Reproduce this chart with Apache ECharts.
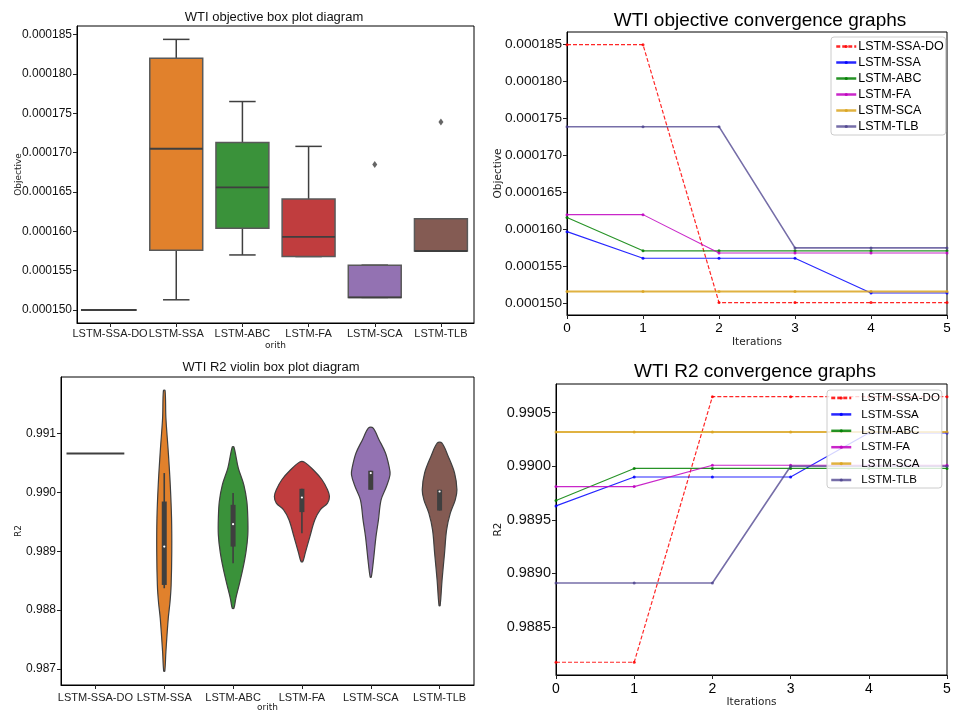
<!DOCTYPE html>
<html><head><meta charset="utf-8">
<script src="https://cdn.jsdelivr.net/npm/echarts@6/dist/echarts.min.js"></script>
<style>html,body{margin:0;padding:0;background:#fff}#c{width:954px;height:712px}</style>
</head><body><div id="c"></div>
<script>
// ---------- data ----------
const algorithms = ['LSTM-SSA-DO', 'LSTM-SSA', 'LSTM-ABC', 'LSTM-FA', 'LSTM-SCA', 'LSTM-TLB'];
const iterations = [0, 1, 2, 3, 4, 5];

// objective box stats: [lower whisker, Q1, median, Q3, upper whisker]
const objBoxSsaDo = [0.0001500, 0.0001500, 0.0001500, 0.0001500, 0.0001500];
const objBoxSsa   = [0.0001513, 0.0001576, 0.0001705, 0.0001820, 0.0001844];
const objBoxAbc   = [0.0001570, 0.0001604, 0.0001656, 0.0001713, 0.0001765];
const objBoxFa    = [0.0001568, 0.0001568, 0.0001593, 0.0001641, 0.0001708];
const objBoxSca   = [0.0001516, 0.0001516, 0.0001516, 0.0001557, 0.0001557];
const objBoxTlb   = [0.0001575, 0.0001575, 0.0001575, 0.0001616, 0.0001616];
const objOutliers = [['LSTM-SCA', 0.0001685], ['LSTM-TLB', 0.0001739]];
const objTicks = [0.000150, 0.000155, 0.000160, 0.000165, 0.000170, 0.000175, 0.000180, 0.000185];

// objective convergence per iteration
const objSsaDo = [0.0001850, 0.0001850, 0.0001501, 0.0001501, 0.0001501, 0.0001501];
const objSsa   = [0.0001597, 0.0001561, 0.0001561, 0.0001561, 0.0001514, 0.0001514];
const objAbc   = [0.0001616, 0.0001571, 0.0001571, 0.0001571, 0.0001571, 0.0001571];
const objFa    = [0.0001620, 0.0001620, 0.0001568, 0.0001568, 0.0001568, 0.0001568];
const objSca   = [0.0001516, 0.0001516, 0.0001516, 0.0001516, 0.0001516, 0.0001516];
const objTlb   = [0.0001739, 0.0001739, 0.0001739, 0.0001575, 0.0001575, 0.0001575];

// R2 violin: density profiles [R2, relative density] and inner box stats
const r2SsaDoValue = 0.99066;
const r2DensSsa = [[0.991726,0.03],[0.991262,0.06],[0.990694,0.145],[0.990128,0.218],[0.989562,0.265],[0.988994,0.273],[0.988428,0.25],[0.988144,0.21],[0.98786,0.145],[0.987294,0.06],[0.986966,0.02]];
const r2DensAbc = [[0.990769,0.03],[0.990412,0.19],[0.990128,0.39],[0.989844,0.50],[0.989562,0.535],[0.989278,0.535],[0.988994,0.47],[0.988712,0.36],[0.988428,0.22],[0.988202,0.10],[0.988032,0.03]];
const r2DensFa  = [[0.990514,0.08],[0.990383,0.41],[0.990213,0.73],[0.990043,0.93],[0.989929,1.0],[0.989817,0.93],[0.989703,0.665],[0.989533,0.47],[0.989249,0.29],[0.988967,0.12],[0.988824,0.03]];
const r2DensSca = [[0.991092,0.08],[0.990893,0.30],[0.990667,0.535],[0.990439,0.665],[0.990298,0.70],[0.990099,0.57],[0.989873,0.375],[0.989533,0.28],[0.989249,0.19],[0.988853,0.10],[0.988559,0.02]];
const r2DensTlb = [[0.990837,0.08],[0.990609,0.315],[0.990327,0.545],[0.990043,0.63],[0.989873,0.57],[0.989647,0.39],[0.989363,0.255],[0.988967,0.18],[0.988513,0.09],[0.988076,0.02]];
const r2BoxSsa = [0.988372, 0.988428, 0.989079, 0.989844, 0.990327];
const r2BoxAbc = [0.988797, 0.989079, 0.989460, 0.989788, 0.989987];
const r2BoxFa  = [0.989307, 0.989664, 0.989912, 0.990060, 0.990060];
const r2BoxSca = [0.990043, 0.990043, 0.990327, 0.990366, 0.990366];
const r2BoxTlb = [0.989691, 0.989691, 0.990014, 0.990043, 0.990043];
const r2ViolinTicks = [0.987, 0.988, 0.989, 0.990, 0.991];

// R2 convergence per iteration
const r2SsaDo = [0.98817, 0.98817, 0.99065, 0.99065, 0.99065, 0.99065];
const r2Ssa   = [0.98963, 0.98990, 0.98990, 0.98990, 0.99031, 0.99031];
const r2Abc   = [0.98968, 0.98998, 0.98998, 0.98998, 0.98998, 0.98998];
const r2Fa    = [0.98981, 0.98981, 0.99001, 0.99001, 0.99001, 0.99001];
const r2Sca   = [0.99032, 0.99032, 0.99032, 0.99032, 0.99032, 0.99032];
const r2Tlb   = [0.98891, 0.98891, 0.98891, 0.99000, 0.99000, 0.99000];
const r2ConvTicks = [0.9885, 0.9890, 0.9895, 0.9900, 0.9905];

// ---------- styles ----------
const boxColors = ['#3274a1', '#e1812c', '#3a923a', '#c03d3e', '#9372b2', '#845b53'];
const lineColors = ['#ff0000', '#0000ff', '#008000', '#bf00bf', '#daa520', '#483d8b'];
const lineWidths = [1.2, 1.1, 1.1, 1.1, 2, 1.6];
const lineOpac = [0.85, 0.85, 0.85, 0.85, 0.85, 0.75];
const dark = '#3f3f3f';
const SANS = 'Liberation Sans, Arial, sans-serif';
const DEJ = 'DejaVu Sans, sans-serif';

const objBoxes = [objBoxSsaDo, objBoxSsa, objBoxAbc, objBoxFa, objBoxSca, objBoxTlb];
const objConv = [objSsaDo, objSsa, objAbc, objFa, objSca, objTlb];
const r2Dens = [null, r2DensSsa, r2DensAbc, r2DensFa, r2DensSca, r2DensTlb];
const r2Boxes = [null, r2BoxSsa, r2BoxAbc, r2BoxFa, r2BoxSca, r2BoxTlb];
const r2Conv = [r2SsaDo, r2Ssa, r2Abc, r2Fa, r2Sca, r2Tlb];

function renderBox(params, api) {
  const i = api.value(0);
  const band = api.size([1, 0])[0];
  const half = band * 0.4;
  const y = k => api.coord([i, api.value(k)])[1];
  const x = api.coord([i, api.value(3)])[0];
  const yLo = y(1), yQ1 = y(2), yMd = y(3), yQ3 = y(4), yHi = y(5);
  const ls = {stroke: dark, lineWidth: 1.5};
  const mHalf = (yQ1 - yQ3) < 0.5 ? half * 1.1 : half;
  return {type: 'group', children: [
    {type: 'line', shape: {x1: x, y1: yQ3, x2: x, y2: yHi}, style: ls},
    {type: 'line', shape: {x1: x, y1: yQ1, x2: x, y2: yLo}, style: ls},
    {type: 'line', shape: {x1: x - half / 2, y1: yHi, x2: x + half / 2, y2: yHi}, style: ls},
    {type: 'line', shape: {x1: x - half / 2, y1: yLo, x2: x + half / 2, y2: yLo}, style: ls},
    {type: 'rect', shape: {x: x - half, y: yQ3, width: 2 * half, height: yQ1 - yQ3}, style: {fill: boxColors[i], stroke: '#595959', lineWidth: 1.5}},
    {type: 'line', shape: {x1: x - mHalf, y1: yMd, x2: x + half, y2: yMd}, style: {stroke: dark, lineWidth: 1.8}}
  ]};
}

function renderViolin(params, api) {
  const i = api.value(0);
  const band = api.size([1, 0])[0];
  const maxHalf = band * 0.4;
  const cx = api.coord([i, r2SsaDoValue])[0];
  if (!r2Dens[i]) {
    const yy = api.coord([i, r2SsaDoValue])[1];
    return {type: 'line', shape: {x1: cx - maxHalf * 1.05, y1: yy, x2: cx + maxHalf * 1.05, y2: yy}, style: {stroke: dark, lineWidth: 2}};
  }
  const prof = r2Dens[i];
  const right = prof.map(p => [cx + p[1] * maxHalf, api.coord([i, p[0]])[1]]);
  const left = prof.slice().reverse().map(p => [cx - p[1] * maxHalf, api.coord([i, p[0]])[1]]);
  const b = r2Boxes[i];
  const yb = v => api.coord([i, v])[1];
  return {type: 'group', children: [
    {type: 'polygon', shape: {points: right.concat(left), smooth: 0.35}, style: {fill: boxColors[i], stroke: dark, lineWidth: 1.2}},
    {type: 'line', shape: {x1: cx, y1: yb(b[0]), x2: cx, y2: yb(b[4])}, style: {stroke: dark, lineWidth: 1.6}},
    {type: 'rect', shape: {x: cx - 2.5, y: yb(b[3]), width: 5, height: yb(b[1]) - yb(b[3])}, style: {fill: dark}},
    {type: 'circle', shape: {cx: cx, cy: yb(b[2]), r: 1.1}, style: {fill: '#fff'}}
  ]};
}

const tickStyle = {show: true, length: 4, lineStyle: {color: '#222', width: 1}};
const axisLineStyle = {show: true, lineStyle: {color: '#000', width: 1}};
function catAxis(gi, fs, margin) {
  return {type: 'category', gridIndex: gi, data: algorithms, boundaryGap: true,
    axisLine: axisLineStyle, axisTick: Object.assign({alignWithLabel: true, interval: 0}, tickStyle),
    axisLabel: {interval: 0, fontSize: fs, fontFamily: SANS, color: '#222', margin: margin, hideOverlap: false},
    name: 'orith', nameLocation: 'middle', nameGap: 18, nameMoveOverlap: false,
    nameTextStyle: {fontSize: 9, fontFamily: DEJ, color: '#222'}, splitLine: {show: false}};
}
function iterAxis(gi, fs, margin, gap) {
  return {type: 'value', gridIndex: gi, min: 0, max: 5, interval: 1,
    axisLine: axisLineStyle, axisTick: tickStyle,
    axisLabel: {fontSize: fs, fontFamily: SANS, color: '#000', margin: margin},
    name: 'Iterations', nameLocation: 'middle', nameGap: gap, nameMoveOverlap: false,
    nameTextStyle: {fontSize: 10.5, fontFamily: DEJ, color: '#222'}, splitLine: {show: false}};
}
function valAxis(gi, min, max, ticks, dec, fs, name, nfs, gap) {
  return {type: 'value', gridIndex: gi, min: min, max: max,
    axisLine: axisLineStyle, axisTick: Object.assign({customValues: ticks}, tickStyle),
    axisLabel: {customValues: ticks, formatter: v => v.toFixed(dec), fontSize: fs, fontFamily: SANS, color: '#111', margin: 5},
    name: name, nameLocation: 'middle', nameGap: gap, nameMoveOverlap: false,
    nameTextStyle: {fontSize: nfs, fontFamily: DEJ, color: '#222'}, splitLine: {show: false}};
}

const gridBase = {show: true, borderColor: '#000', borderWidth: 1, backgroundColor: '#fff', containLabel: false, outerBoundsMode: 'none'};

function convSeries(arrs, xi) {
  return algorithms.map((name, k) => ({
    type: 'line', name: name, xAxisIndex: xi, yAxisIndex: xi,
    data: iterations.map((it, j) => [it, arrs[k][j]]),
    symbol: 'circle', symbolSize: 3, showSymbol: true,
    itemStyle: {color: lineColors[k], opacity: lineOpac[k]},
    lineStyle: {color: lineColors[k], width: lineWidths[k], opacity: lineOpac[k], type: k === 0 ? [4, 2] : 'solid'},
    z: 2
  }));
}

function legendCfg(left, top, fs, lh, gap, pad, textPad) {
  return {data: algorithms, left: left, top: top, orient: 'vertical',
    itemWidth: 20, itemHeight: 4, itemGap: gap, padding: pad,
    backgroundColor: 'rgba(255,255,255,0.8)', borderColor: '#ccc', borderWidth: 1, borderRadius: 3,
    textStyle: {fontSize: fs, lineHeight: lh, fontFamily: SANS, color: '#000', padding: textPad},
    lineStyle: {width: 2.5}, selectedMode: false};
}

const option = {
  animation: false,
  backgroundColor: '#fff',
  title: [
    {text: 'WTI objective box plot diagram', left: 274, top: 11, textAlign: 'center', padding: 0, textStyle: {fontSize: 13, fontWeight: 'normal', fontFamily: SANS, color: '#111'}},
    {text: 'WTI objective convergence graphs', left: 760, top: 11, textAlign: 'center', padding: 0, textStyle: {fontSize: 19, fontWeight: 'normal', fontFamily: SANS, color: '#000'}},
    {text: 'WTI R2 violin box plot diagram', left: 271, top: 361, textAlign: 'center', padding: 0, textStyle: {fontSize: 13, fontWeight: 'normal', fontFamily: SANS, color: '#111'}},
    {text: 'WTI R2 convergence graphs', left: 755, top: 362, textAlign: 'center', padding: 0, textStyle: {fontSize: 19, fontWeight: 'normal', fontFamily: SANS, color: '#000'}}
  ],
  grid: [
    Object.assign({left: 77, top: 26, width: 397, height: 297}, gridBase),
    Object.assign({left: 567, top: 32, width: 380, height: 283}, gridBase),
    Object.assign({left: 61, top: 377, width: 413, height: 308}, gridBase),
    Object.assign({left: 556, top: 384, width: 391, height: 291}, gridBase)
  ],
  xAxis: [catAxis(0, 11, 5), iterAxis(1, 13.5, 6, 22), catAxis(2, 11, 7), iterAxis(3, 14, 7, 22)],
  yAxis: [
    valAxis(0, 0.00014835, 0.0001861, objTicks, 6, 12, 'Objective', 9, 54),
    valAxis(1, 0.00014842, 0.00018671, objTicks, 6, 13.7, 'Objective', 10.5, 63),
    valAxis(2, 0.98673, 0.991957, r2ViolinTicks, 3, 12, 'R2', 9, 38),
    valAxis(3, 0.988051, 0.990768, r2ConvTicks, 4, 14.5, 'R2', 10.5, 52)
  ],
  legend: [
    legendCfg(831, 37, 12.5, 13, 3, [3, 2, 2, 4], [0, 0, 0, -3]),
    legendCfg(827, 390, 11.5, 12, 4.4, [2, 2, 2, 3], [0, 0, 0, 5])
  ],
  series: [
    {type: 'custom', xAxisIndex: 0, yAxisIndex: 0, renderItem: renderBox,
      data: objBoxes.map((b, i) => [i].concat(b)), encode: {x: 0, y: [1, 2, 3, 4, 5]}, z: 2},
    {type: 'scatter', xAxisIndex: 0, yAxisIndex: 0, data: objOutliers, symbol: 'diamond', symbolSize: [5, 7],
      itemStyle: {color: dark}, z: 3},
    {type: 'custom', xAxisIndex: 2, yAxisIndex: 2, renderItem: renderViolin,
      data: algorithms.map((a, i) => [i]), encode: {x: 0}, z: 2}
  ].concat(convSeries(objConv, 1)).concat(convSeries(r2Conv, 3))
};

const chart = echarts.init(document.getElementById('c'), null, {renderer: 'canvas'});
chart.setOption(option);
</script>
</body></html>
